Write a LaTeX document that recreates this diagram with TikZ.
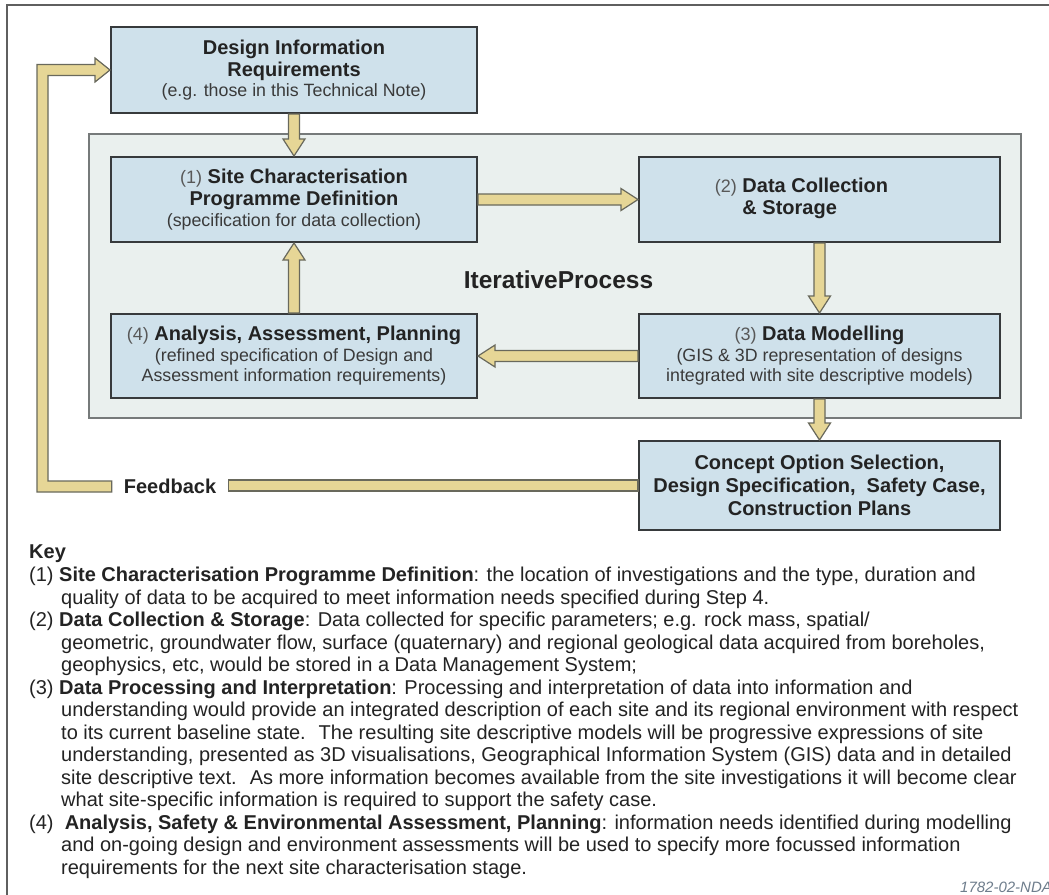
\documentclass[tikz,border=0pt]{standalone}
\usepackage{fontspec}
\setmainfont{Liberation Sans}
\usetikzlibrary{calc}

\definecolor{boxfill}{RGB}{207,225,235}
\definecolor{boxline}{RGB}{55,58,60}
\definecolor{panelfill}{RGB}{234,240,238}
\definecolor{panelline}{RGB}{118,122,122}
\definecolor{arrowfill}{RGB}{230,214,150}
\definecolor{arrowline}{RGB}{105,105,92}
\definecolor{ink}{RGB}{35,35,35}
\definecolor{subink}{RGB}{58,58,58}
\definecolor{numink}{RGB}{88,88,88}
\definecolor{tagink}{RGB}{110,125,140}
\definecolor{framecol}{RGB}{95,95,95}

\newcommand\stagesub[1]{{\fontsize{17.8}{21}\selectfont\mdseries\color{subink}#1}}
\newcommand\stagenum[1]{{\fontsize{18}{21}\selectfont\mdseries\color{numink}#1}}

% block arrow from one anchor to another
\newcommand\flowarrow[2]{%
  \path[blockarrow] let \p1=(#1), \p2=(#2), \n1={atan2(\y2-\y1,\x2-\x1)} in
    ($(\p1)+(\n1+90:5.5pt)$) --
    ($(\p2)+(\n1+180:17pt)+(\n1+90:5.5pt)$) --
    ($(\p2)+(\n1+180:17pt)+(\n1+90:11pt)$) --
    (\p2) --
    ($(\p2)+(\n1+180:17pt)+(\n1-90:11pt)$) --
    ($(\p2)+(\n1+180:17pt)+(\n1-90:5.5pt)$) --
    ($(\p1)+(\n1-90:5.5pt)$) -- cycle;}

\tikzset{
  stage/.style={draw=boxline, line width=2pt, fill=boxfill, inner sep=0pt,
    align=center, text=ink, font=\fontsize{20}{22}\selectfont\bfseries},
  panel/.style={draw=panelline, line width=1.5pt, fill=panelfill},
  blockarrow/.style={draw=arrowline, line width=1.2pt, fill=arrowfill, line join=miter},
  frame/.style={draw=framecol, line width=2.5pt},
  keytext/.style={align=left, inner sep=0pt, text=ink, font=\fontsize{20}{22.5}\selectfont},
}

\begin{document}
\begin{tikzpicture}[x=1pt,y=-1pt]
\useasboundingbox (0,0) rectangle (1049,894);
\fill[white] (0,0) rectangle (1049,894);

% outer frame (open to the right and bottom)
\draw[frame] (7,905) -- (7,5) -- (1060,5);

% iterative process panel
\node[panel, minimum width=932pt, minimum height=284pt, inner sep=0pt] (loop) at (555,276) {};
\node[anchor=base, font=\fontsize{24.5}{28}\selectfont\bfseries, text=ink] (itertitle) at (558.5,288) {IterativeProcess};

% stages
\node[stage, minimum width=366pt, minimum height=86pt] (design) at (294,70)
  {Design Information\\Requirements\\[-2pt]\stagesub{(e.g. those in this Technical Note)}};
\node[stage, minimum width=366pt, minimum height=85pt] (b1) at (294,199.5)
  {\stagenum{(1)} Site Characterisation\\Programme Definition\\[-1pt]\stagesub{(specification for data collection)}};
\node[stage, minimum width=361pt, minimum height=85pt] (b2) at (819.5,199.5)
  {\hspace*{-36pt}\stagenum{(2)} \begin{tabular}[t]{@{}l@{}}Data Collection\\\& Storage\end{tabular}};
\node[stage, minimum width=361pt, minimum height=84pt] (b3) at (819.5,356)
  {\stagenum{(3)} Data Modelling\\[-1pt]\stagesub{(GIS \& 3D representation of designs}\\[-2pt]\stagesub{integrated with site descriptive models)}};
\node[stage, minimum width=366pt, minimum height=84pt] (b4) at (294,356)
  {\stagenum{(4)} Analysis, Assessment, Planning\\[-1pt]\stagesub{(refined specification of Design and}\\[-2pt]\stagesub{Assessment information requirements)}};
\node[stage, minimum width=361pt, minimum height=89pt] (concept) at (819.5,485.5)
  {Concept Option Selection,\\[1pt]Design Specification,~ Safety Case,\\[1pt]Construction Plans};

% flow arrows
\flowarrow{design.south}{b1.north}
\flowarrow{b1.east}{b2.west}
\flowarrow{b2.south}{b3.north}
\flowarrow{b3.west}{b4.east}
\flowarrow{b4.north}{b1.south}
\flowarrow{b3.south}{concept.north}

% feedback loop
\node[font=\fontsize{20}{22}\selectfont\bfseries, text=ink, inner xsep=12pt, inner ysep=0pt] (fbtext) at (170,486.5) {Feedback};
\coordinate (fbx) at (42.5,0);
\path[blockarrow] ($(concept.west)+(0,-5.5)$) rectangle ($(fbtext.east |- concept.west)+(0,5.5)$);
\path[blockarrow]
  ($(fbtext.west)+(0,-5.5)$) --
  ($(fbx |- fbtext.west)+(5.5,-5.5)$) --
  ($(fbx |- design.west)+(5.5,5.5)$) --
  ($(design.west)+(-15,5.5)$) --
  ($(design.west)+(-15,12)$) --
  (design.west) --
  ($(design.west)+(-15,-12)$) --
  ($(design.west)+(-15,-5.5)$) --
  ($(fbx |- design.west)+(-5.5,-5.5)$) --
  ($(fbx |- fbtext.west)+(-5.5,5.5)$) --
  ($(fbtext.west)+(0,5.5)$) -- cycle;

% key
\node[keytext, anchor=base west, font=\fontsize{20}{22.5}\selectfont\bfseries] (keyhead) at (29,558) {Key};
\node[keytext, anchor=north west] (keylist) at (29,567) {%
(1) \textbf{Site Characterisation Programme Definition}: the location of investigations and the type, duration and\\
\hspace*{32pt}quality of data to be acquired to meet information needs specified during Step 4.\\
(2) \textbf{Data Collection \& Storage}: Data collected for specific parameters; e.g. rock mass, spatial/\\
\hspace*{32pt}geometric, groundwater flow, surface (quaternary) and regional geological data acquired from boreholes,\\
\hspace*{32pt}geophysics, etc, would be stored in a Data Management System;\\
(3) \textbf{Data Processing and Interpretation}: Processing and interpretation of data into information and\\
\hspace*{32pt}understanding would provide an integrated description of each site and its regional environment with respect\\
\hspace*{32pt}to its current baseline state.~ The resulting site descriptive models will be progressive expressions of site\\
\hspace*{32pt}understanding, presented as 3D visualisations, Geographical Information System (GIS) data and in detailed\\
\hspace*{32pt}site descriptive text.~ As more information becomes available from the site investigations it will become clear\\
\hspace*{32pt}what site-specific information is required to support the safety case.\\
(4)~ \textbf{Analysis, Safety \& Environmental Assessment, Planning}: information needs identified during modelling\\
\hspace*{32pt}and on-going design and environment assessments will be used to specify more focussed information\\
\hspace*{32pt}requirements for the next site characterisation stage.};

\node[anchor=base west, inner sep=0pt, font=\fontsize{15}{18}\selectfont\itshape, text=tagink] (tag) at (960,892) {1782-02-NDA};
\end{tikzpicture}
\end{document}
